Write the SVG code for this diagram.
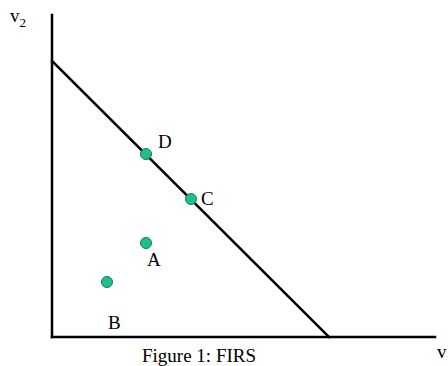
<svg xmlns="http://www.w3.org/2000/svg" width="448" height="366" viewBox="0 0 448 366">
<style>
.ax{stroke:#000;stroke-width:2.5;fill:none;stroke-linecap:square}
.pt{fill:#1fbf8c;stroke:#127a5a;stroke-width:1}
.t{font-family:"Liberation Serif",serif;font-size:19px;fill:#000}
</style>
<rect width="448" height="366" fill="#fff"/>
<g id="connectors">
<line class="ax" x1="52" y1="15" x2="52" y2="337"/>
<line class="ax" x1="52" y1="337" x2="435" y2="337"/>
<line class="ax" x1="52" y1="61" x2="329" y2="337"/>
</g>
<g id="D"><circle class="pt" cx="146" cy="154" r="5.5"/><text class="t" x="158" y="148">D</text></g>
<g id="C"><circle class="pt" cx="191" cy="199" r="5.5"/><text class="t" x="201" y="205">C</text></g>
<g id="A"><circle class="pt" cx="146" cy="243" r="5.5"/><text class="t" x="147" y="266">A</text></g>
<g id="B"><circle class="pt" cx="107" cy="282" r="5.5"/><text class="t" x="108" y="329">B</text></g>
<g id="labels">
<text class="t" x="10" y="22">v<tspan font-size="13" dy="5">2</tspan></text>
<text class="t" x="437" y="358">v</text>
<text class="t" x="142" y="362">Figure 1: FIRS</text>
</g>
</svg>
